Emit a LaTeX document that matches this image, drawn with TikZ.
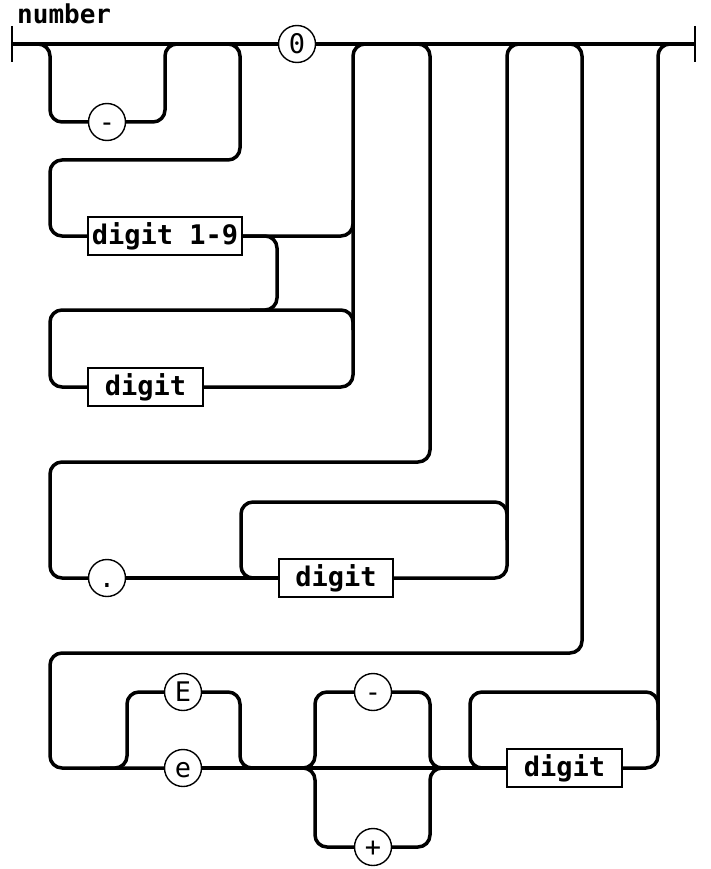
\documentclass[tikz,border=0pt]{standalone}
\usepackage{fontspec}
\setmonofont{DejaVu Sans Mono}
\tikzset{
  base/.style = {
    draw=black, line width=1.4pt, fill=white, inner sep=0pt,
    text centered, font=\ttfamily
  },
  term/.style = {
    base, circle, minimum size=37pt, text height=19pt, text depth=0pt,
    font=\ttfamily\fontsize{27}{27}\selectfont
  },
  nonterm/.style = {
    base, rectangle, minimum height=38pt,
    font=\ttfamily\bfseries\fontsize{27}{27}\selectfont
  },
  rail/.style = {line width=3.5pt, rounded corners=12pt},
  tick/.style = {line width=2pt},
}

\begin{document}
\begin{tikzpicture}[x=1pt, y=-1pt]
  \useasboundingbox (0,0) rectangle (710,869);
  \node (title) [anchor=base west, inner sep=0pt, font=\ttfamily\bfseries\fontsize{26}{26}\selectfont] at (17,24) {number};
  \coordinate (start) at (12,44);
  \coordinate (end) at (695,44);
  \node (zero) [term] at (297,44) {0};
  \node (minus) [term] at (107,122) {-};
  \node (d19) [nonterm, minimum width=154pt] at (165,236) {digit 1-9};
  \node (dig1) [nonterm, minimum width=115pt] at (145.5,387) {digit};
  \node (dot) [term] at (107,578) {.};
  \node (dig2) [nonterm, minimum width=114pt] at (336,578) {digit};
  \node (eup) [term] at (183,692) {E};
  \node (elow) [term, below of=eup, node distance=76pt] {e};
  \node (sminus) [term] at (373,692) {-};
  \node (splus) [term, below of=sminus, node distance=155pt] {+};
  \node (dig3) [nonterm, minimum width=115pt] at (564.5,768) {digit};
  % main line
  \draw[rail] (start) -- (zero.west);
  \draw[rail] (zero.east) -- (end);
  \draw[tick] ([yshift=18pt]start) -- ([yshift=-18pt]start);
  \draw[tick] ([yshift=18pt]end) -- ([yshift=-18pt]end);
  % sign
  \draw[rail] (start) -- (50,44) |- (minus.west);
  \draw[rail] (minus.east) -| (165,44) -- (240,44) |- (50,160) |- (d19.west);
  % integer part
  \draw[rail] (d19.east) -| (353,44) -- (375,44);
  \draw[rail] (d19.east) -- (277,236) |- (50,310) |- (dig1.west);
  \draw[rail] (dig1.east) -| (353,200);
  \draw[rail] (250,310) -- (353,310) -- (353,330);
  % fraction
  \draw[rail] (405,44) -- (430,44) |- (50,462) |- (dot.west);
  \draw[rail] (dot.east) -- (dig2.west);
  \draw[rail] (dig2.east) -| (507,44) -- (530,44);
  \draw[rail] (507,540) |- (241,502) |- (dig2.west);
  % exponent
  \draw[rail] (560,44) -- (582,44) |- (50,653) |- (elow.west);
  \draw[rail] (100,768) -- (127,768) |- (eup.west);
  \draw[rail] (eup.east) -| (240,768) -- (260,768);
  \draw[rail] (elow.east) -- (dig3.west);
  \draw[rail] (290,768) -- (315,768) |- (sminus.west);
  \draw[rail] (290,768) -- (315,768) |- (splus.west);
  \draw[rail] (sminus.east) -| (430,768) -- (455,768);
  \draw[rail] (splus.east) -| (430,768) -- (455,768);
  \draw[rail] (dig3.east) -| (658,44) -- (680,44);
  \draw[rail] (658,720) |- (470,692) |- (dig3.west);
\end{tikzpicture}
\end{document}
